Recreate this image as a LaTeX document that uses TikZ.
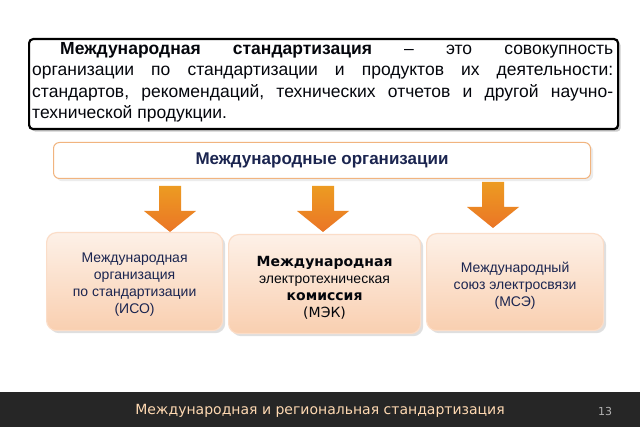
\documentclass[tikz,border=0pt]{standalone}
\usepackage{fontspec}
\setmainfont{Liberation Sans}
\newfontfamily\dvs{DejaVu Sans}
\usetikzlibrary{shadows}
\definecolor{navy}{HTML}{1B2550}
\definecolor{ora}{HTML}{E8822A}
\definecolor{peach}{HTML}{F9CFB0}
\tikzset{
 org/.style={draw=peach!70!white, rounded corners=10pt, top color=white!70!peach, bottom color=peach, line width=1.2pt, drop shadow={opacity=0.25}},
 arr/.style={draw=none, top color=ora!80!yellow, bottom color=ora!90!red},
}
\begin{document}
\frenchspacing
\begin{tikzpicture}[x=1pt,y=-1pt]
\useasboundingbox (0,0) rectangle (640,427);
\fill[white] (0,0) rectangle (640,427);
% definition box
\node[draw=black, line width=2.2pt, rounded corners=4pt, fill=white, drop shadow={opacity=0.4}, minimum width=589, minimum height=90, anchor=north west, inner sep=0] (def) at (28,38) {};
\node[anchor=north west, text width=581, align=justify, inner sep=0, font=\fontsize{17.5}{21.5}\selectfont, text=black!85!navy] (deftext) at (32,42) {\hspace*{28pt}\textbf{Международная стандартизация} – это совокупность\linebreak организации по стандартизации и продуктов их деятельности:\linebreak стандартов, рекомендаций, технических отчетов и другой научно-\linebreak технической продукции.};
% header
\node[draw=ora!60, rounded corners=6pt, fill=white, line width=1pt, minimum width=537, minimum height=36, anchor=north west, drop shadow={opacity=0.15}] (hdr) at (53,142) {};
\node[font=\bfseries\fontsize{17}{20}\selectfont, text=navy] (hdrtext) at (hdr.center) {Международные организации};
% arrows
\foreach \n/\x/\y in {a1/170/186, a2/323/186, a3/493/182}{
 \path[arr] (\x-11,\y) -- (\x+11,\y) -- (\x+11,\y+25) -- (\x+26,\y+25) -- (\x,\y+46) -- (\x-26,\y+25) -- (\x-11,\y+25) -- cycle;
 \coordinate (\n) at (\x,\y);
}
% org boxes
\node[org, minimum width=176, minimum height=98, anchor=north west] (iso) at (46,232) {};
\node[align=center, text=navy, font=\fontsize{14}{17}\selectfont] at ([yshift=-3]iso.center) {Международная\\организация\\по стандартизации\\(ИСО)};
\node[org, minimum width=192, minimum height=99, anchor=north west] (iec) at (228,234) {};
\node[align=center, text=black!85!navy, font=\fontsize{14}{17}\selectfont] at ([yshift=-4]iec.center) {{\dvs\bfseries Международная}\\электротехническая\\{\dvs\bfseries комиссия}\\{\dvs (МЭК)}};
\node[org, minimum width=177, minimum height=97, anchor=north west] (itu) at (426,233) {};
\node[align=center, text=navy, font=\fontsize{14}{17}\selectfont] at ([yshift=-4]itu.center) {Международный\\союз электросвязи\\(МСЭ)};
% footer
\fill[black!85] (0,392) rectangle (640,427);
\node[text=orange!30!white, font=\dvs\fontsize{14}{16}\selectfont] (foot) at (320,411) {Международная и региональная стандартизация};
\node[text=gray!60, font=\dvs\fontsize{11}{13}\selectfont] (pg) at (605,411) {13};
\end{tikzpicture}
\end{document}
